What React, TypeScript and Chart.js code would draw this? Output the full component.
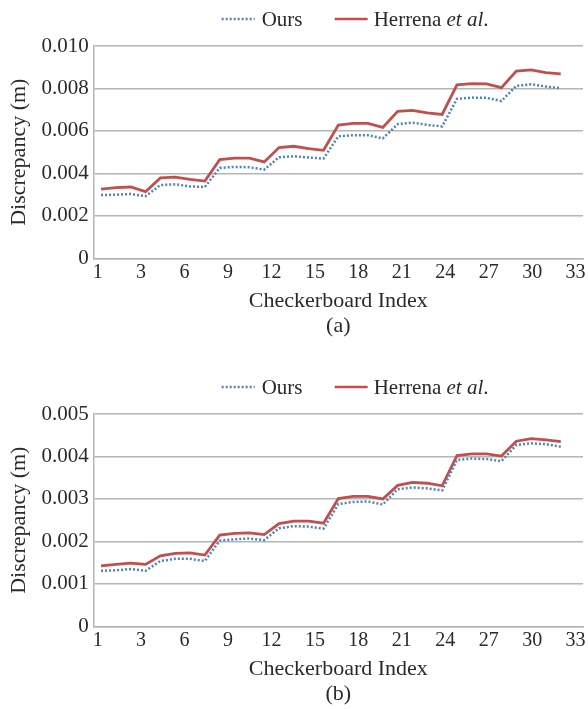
import React, { useEffect, useRef } from "react";
import { Chart, registerables } from "chart.js";

Chart.register(...registerables);

const checkerboardIndex = [
  1, 2, 3, 4, 5, 6, 7, 8, 9, 10, 11, 12, 13, 14, 15, 16,
  17, 18, 19, 20, 21, 22, 23, 24, 25, 26, 27, 28, 29, 30, 31, 32,
];

const xTickLabels = ["1", "3", "6", "9", "12", "15", "18", "21", "24", "27", "30", "33"];

const oursA = [
  0.00298, 0.003, 0.00303, 0.00293, 0.00345, 0.00349, 0.00339, 0.00336,
  0.00426, 0.00431, 0.00429, 0.00418, 0.00476, 0.00481, 0.00475, 0.0047,
  0.00575, 0.0058, 0.0058, 0.00565, 0.00632, 0.00639, 0.00629, 0.00621,
  0.00751, 0.00757, 0.00756, 0.00741, 0.00812, 0.0082, 0.00809, 0.00801,
];
const herrenaA = [
  0.00326, 0.00333, 0.00336, 0.00314, 0.00379, 0.00383, 0.00372, 0.00364,
  0.00465, 0.00472, 0.00472, 0.00454, 0.00522, 0.00528, 0.00517, 0.00509,
  0.00628, 0.00636, 0.00636, 0.00617, 0.00692, 0.00697, 0.00685, 0.00678,
  0.00817, 0.00823, 0.00822, 0.00804, 0.00882, 0.00888, 0.00875, 0.00869,
];
const oursB = [
  0.00131, 0.00132, 0.00135, 0.00131, 0.00154, 0.00159, 0.00159, 0.00154,
  0.00202, 0.00205, 0.00207, 0.00203, 0.00231, 0.00236, 0.00235, 0.0023,
  0.00288, 0.00293, 0.00294, 0.00287, 0.00323, 0.00327, 0.00325, 0.0032,
  0.00392, 0.00395, 0.00394, 0.00389, 0.00427, 0.00431, 0.00429, 0.00423,
];
const herrenaB = [
  0.001425, 0.00146, 0.00149, 0.00146, 0.00166, 0.00172, 0.00173, 0.00168,
  0.00215, 0.00219, 0.0022, 0.00216, 0.00242, 0.00248, 0.00248, 0.00243,
  0.00301, 0.00306, 0.00306, 0.003, 0.00332, 0.00339, 0.00337, 0.00331,
  0.00402, 0.00406, 0.00406, 0.00401, 0.00436, 0.00442, 0.00439, 0.00435,
];

const SERIF = '"Liberation Serif", "Times New Roman", serif';
const RED = "#c0504d";
const BLUE = "#4f81bd";
const GRID = "#b5b5b5";
const TEXT = "#2a2a2a";

const legendPlugin = {
  id: "customLegend",
  afterDraw(chart: any) {
    const ctx = chart.ctx as CanvasRenderingContext2D;
    const y = 19;
    const x0 = chart.chartArea.left + 128;
    ctx.save();
    ctx.lineWidth = 2.5;
    // Ours
    ctx.strokeStyle = BLUE;
    ctx.setLineDash([2, 2]);
    ctx.beginPath();
    ctx.moveTo(x0, y);
    ctx.lineTo(x0 + 33, y);
    ctx.stroke();
    ctx.setLineDash([]);
    ctx.fillStyle = TEXT;
    ctx.textBaseline = "middle";
    ctx.font = `21px ${SERIF}`;
    ctx.fillText("Ours", x0 + 40, y + 1);
    // Herrena et al.
    const x1 = x0 + 113;
    ctx.strokeStyle = RED;
    ctx.beginPath();
    ctx.moveTo(x1, y);
    ctx.lineTo(x1 + 33, y);
    ctx.stroke();
    let tx = x1 + 39;
    ctx.font = `21px ${SERIF}`;
    ctx.fillText("Herrena ", tx, y + 1);
    tx += ctx.measureText("Herrena ").width;
    ctx.font = `italic 21px ${SERIF}`;
    ctx.fillText("et al", tx, y + 1);
    tx += ctx.measureText("et al").width;
    ctx.font = `21px ${SERIF}`;
    ctx.fillText(".", tx, y + 1);
    ctx.restore();
  },
};

function makeConfig(
  ours: number[],
  herrena: number[],
  yMax: number,
  yStep: number,
  labelStep: number,
  caption: string,
  padBottom: number
) {
  const labelEvery = Math.round(labelStep / yStep);
  const tickStart = 0.77;
  const tickEnd = 33.0;
  return {
    type: "line" as const,
    data: {
      datasets: [
        {
          label: "Ours",
          data: checkerboardIndex.map((x, i) => ({ x, y: ours[i] })),
          borderColor: BLUE,
          borderWidth: 2.5,
          borderDash: [2, 2],
          pointRadius: 0,
          tension: 0,
          fill: false,
        },
        {
          label: "Herrena et al.",
          data: checkerboardIndex.map((x, i) => ({ x, y: herrena[i] })),
          borderColor: RED,
          borderWidth: 2.8,
          pointRadius: 0,
          tension: 0,
          fill: false,
        },
      ],
    },
    options: {
      animation: false as const,
      responsive: false,
      devicePixelRatio: 1,
      layout: { padding: { top: 46, bottom: padBottom, left: 6, right: 5 } },
      plugins: {
        legend: { display: false },
        tooltip: { enabled: false },
        title: { display: false },
      },
      scales: {
        x: {
          type: "linear" as const,
          min: 0.5,
          max: 33.5,
          grid: { display: false, drawTicks: false },
          border: { display: true, color: GRID, width: 1.5 },
          afterBuildTicks: (axis: any) => {
            axis.ticks = xTickLabels.map((_, i) => ({
              value: tickStart + (i * (tickEnd - tickStart)) / (xTickLabels.length - 1),
            }));
          },
          ticks: {
            autoSkip: false,
            maxRotation: 0,
            padding: 2,
            color: TEXT,
            font: { family: SERIF, size: 20, lineHeight: 1.2 },
            callback: (_v: any, i: number) => xTickLabels[i],
          },
          title: {
            display: true,
            text: ["Checkerboard Index", caption],
            color: TEXT,
            font: { family: SERIF, size: 22, lineHeight: 1.15 },
            padding: { top: 2, bottom: 0 },
          },
        },
        y: {
          type: "linear" as const,
          min: 0,
          max: yMax,
          grid: { color: GRID, lineWidth: 1.5, drawTicks: false },
          border: { display: true, color: GRID, width: 1.5 },
          ticks: {
            stepSize: yStep,
            padding: 5,
            color: TEXT,
            font: { family: SERIF, size: 21, lineHeight: 1.2 },
            callback: (value: number) => {
              const k = Math.round(value / yStep);
              if (k % labelEvery !== 0) return "";
              return k === 0 ? "0" : (k * yStep).toFixed(3);
            },
          },
          title: {
            display: true,
            text: "Discrepancy (m)",
            color: TEXT,
            font: { family: SERIF, size: 22, lineHeight: 1.2 },
            padding: { top: 0, bottom: 4 },
          },
        },
      },
    },
    plugins: [legendPlugin],
  };
}

function LineChart(props: {
  ours: number[];
  herrena: number[];
  yMax: number;
  yStep: number;
  labelStep: number;
  caption: string;
  padBottom: number;
  height: number;
  top: number;
}) {
  const ref = useRef<HTMLCanvasElement | null>(null);
  useEffect(() => {
    if (!ref.current) return;
    const chart = new Chart(
      ref.current,
      makeConfig(
        props.ours,
        props.herrena,
        props.yMax,
        props.yStep,
        props.labelStep,
        props.caption,
        props.padBottom
      ) as any
    );
    return () => chart.destroy();
  }, []);
  return (
    <canvas
      ref={ref}
      width={588}
      height={props.height}
      style={{ position: "absolute", left: 0, top: props.top, width: 588, height: props.height }}
    />
  );
}

export default function App() {
  return (
    <div
      style={{
        position: "absolute",
        left: 0,
        top: 0,
        width: 588,
        height: 709,
        overflow: "hidden",
        background: "#ffffff",
      }}
    >
      <LineChart
        ours={oursA}
        herrena={herrenaA}
        yMax={0.01}
        yStep={0.001}
        labelStep={0.002}
        caption="(a)"
        padBottom={29}
        height={368}
        top={0}
      />
      <LineChart
        ours={oursB}
        herrena={herrenaB}
        yMax={0.005}
        yStep={0.0005}
        labelStep={0.001}
        caption="(b)"
        padBottom={2}
        height={341}
        top={368}
      />
    </div>
  );
}
